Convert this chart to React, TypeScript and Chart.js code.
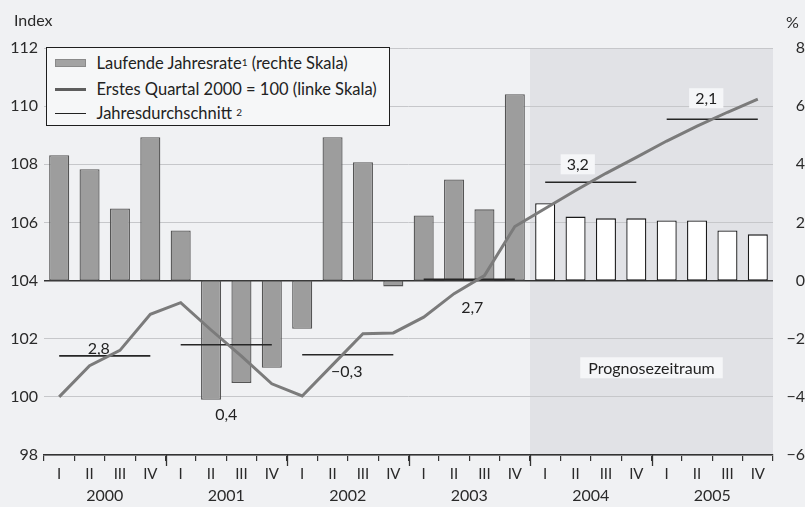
import React, { useEffect, useRef } from 'react';
import { Chart, registerables } from 'chart.js';

Chart.register(...registerables);

// ---- data ----
const quarterLabels = [
  'I', 'II', 'III', 'IV',
  'I', 'II', 'III', 'IV',
  'I', 'II', 'III', 'IV',
  'I', 'II', 'III', 'IV',
  'I', 'II', 'III', 'IV',
  'I', 'II', 'III', 'IV',
];
const yearLabels = ['2000', '2001', '2002', '2003', '2004', '2005'];

// Laufende Jahresrate in % (rechte Skala)
const annualRate = [
  4.31, 3.83, 2.48, 4.93,
  1.72, -4.1, -3.52, -3.0,
  -1.66, 4.93, 4.07, -0.2,
  2.24, 3.48, 2.45, 6.41,
  2.66, 2.2, 2.14, 2.14,
  2.07, 2.07, 1.72, 1.59,
];

// Erstes Quartal 2000 = 100 (linke Skala)
const indexValues = [
  100.0, 101.07, 101.6, 102.84,
  103.24, 102.3, 101.4, 100.45,
  100.03, 101.1, 102.17, 102.2,
  102.74, 103.55, 104.17, 105.86,
  106.48, 107.1, 107.69, 108.24,
  108.8, 109.31, 109.79, 110.24,
];

// Jahresdurchschnitt (linke Skala) and its growth labels
const annualAverage = [101.41, 101.79, 101.45, 104.04, 107.38, 109.55];
const annualGrowthLabels = ['2,8', '0,4', '\u22120,3', '2,7', '3,2', '2,1'];

const forecastStart = 16; // first forecast quarter (2004 I)
const forecastLabel = 'Prognosezeitraum';

const leftMin = 98, leftMax = 112;
const rightMin = -6, rightMax = 8;
const tickStep = 2;

// annotation placement (dx, dy in px from year centre / average line)
const growthLabelOffsets: [number, number][] = [
  [-6, -8], [0, 69], [-1, 16], [3, 27], [-13, -18], [-6, -21],
];

const FONT = 'Lato';

export default function App() {
  const ref = useRef<HTMLCanvasElement>(null);

  useEffect(() => {
    const quarterlyAverage = quarterLabels.map((_, i) => annualAverage[Math.floor(i / 4)]);

    const overlay = {
      id: 'overlay',
      beforeDraw(chart: any) {
        const { ctx, chartArea, scales } = chart;
        const x = scales.x;
        const step = x.getPixelForValue(1) - x.getPixelForValue(0);
        const fx = x.getPixelForValue(forecastStart) - step / 2;
        ctx.save();
        ctx.fillStyle = '#e1e2e6';
        ctx.fillRect(fx, chartArea.top, chartArea.right - fx, chartArea.bottom - chartArea.top);
        ctx.restore();
      },
      afterDraw(chart: any) {
        const { ctx, chartArea, scales } = chart;
        const x = scales.x;
        const y = scales.y;
        const y2 = scales.y2;
        const step = x.getPixelForValue(1) - x.getPixelForValue(0);
        ctx.save();
        // long ticks at year boundaries
        ctx.strokeStyle = '#333';
        ctx.lineWidth = 1.3;
        for (let i = 4; i < quarterLabels.length; i += 4) {
          const bx = Math.round(x.getPixelForValue(i) - step / 2) + 0.5;
          ctx.beginPath();
          ctx.moveTo(bx, chartArea.bottom);
          ctx.lineTo(bx, chartArea.bottom + 11);
          ctx.stroke();
        }
        // growth labels
        ctx.font = `16px ${FONT}`;
        ctx.textAlign = 'center';
        ctx.textBaseline = 'middle';
        annualGrowthLabels.forEach((lab, k) => {
          const cx = (x.getPixelForValue(4 * k) + x.getPixelForValue(4 * k + 3)) / 2 + growthLabelOffsets[k][0];
          const cy = y.getPixelForValue(annualAverage[k]) + growthLabelOffsets[k][1];
          if (4 * k >= forecastStart) {
            const w = ctx.measureText(lab).width + 12;
            ctx.fillStyle = '#f5f6f8';
            ctx.fillRect(cx - w / 2, cy - 10, w, 20);
          }
          ctx.fillStyle = '#222';
          ctx.fillText(lab, cx, cy + 1);
        });
        // forecast label
        const fx = x.getPixelForValue(forecastStart) - step / 2;
        const px = (fx + chartArea.right) / 2;
        const py = y2.getPixelForValue(-3);
        const w = ctx.measureText(forecastLabel).width + 16;
        ctx.fillStyle = '#f5f6f8';
        ctx.fillRect(px - w / 2, py - 10.5, w, 21);
        ctx.fillStyle = '#222';
        ctx.fillText(forecastLabel, px, py + 1);
        ctx.restore();
      },
    };

    Chart.defaults.font.family = FONT;
    Chart.defaults.font.size = 16;
    Chart.defaults.color = '#2a2a2a';

    const chart = new Chart(ref.current!, {
      type: 'bar',
      data: {
        labels: quarterLabels,
        datasets: [
          {
            type: 'line',
            label: 'Erstes Quartal 2000 = 100 (linke Skala)',
            data: indexValues,
            yAxisID: 'y',
            borderColor: '#7b7b7b',
            borderWidth: 3,
            pointRadius: 0,
            tension: 0,
            order: 1,
          },
          {
            type: 'line',
            label: 'Jahresdurchschnitt',
            data: quarterlyAverage,
            yAxisID: 'y',
            borderColor: '#262626',
            borderWidth: 1.6,
            pointRadius: 0,
            tension: 0,
            order: 2,
            segment: {
              borderColor: (ctx: any) => (ctx.p0DataIndex % 4 === 3 ? 'rgba(0,0,0,0)' : '#262626'),
            },
          },
          {
            type: 'bar',
            label: 'Laufende Jahresrate (rechte Skala)',
            data: annualRate,
            yAxisID: 'y2',
            backgroundColor: (ctx: any) => (ctx.dataIndex >= forecastStart ? '#ffffff' : '#9d9d9d'),
            borderColor: (ctx: any) => (ctx.dataIndex >= forecastStart ? '#1a1a1a' : '#555555'),
            borderWidth: 1.3,
            borderSkipped: false,
            categoryPercentage: 1,
            barPercentage: 0.66,
            order: 3,
          },
        ] as any,
      },
      options: {
        responsive: false,
        devicePixelRatio: 1,
        animation: false,
        layout: { padding: { top: 48, left: 0, right: 0, bottom: 0 } },
        plugins: { legend: { display: false }, tooltip: { enabled: false } },
        scales: {
          x: {
            type: 'category',
            position: 'bottom',
            offset: true,
            weight: 0,
            grid: {
              display: true,
              offset: true,
              drawOnChartArea: false,
              drawTicks: true,
              tickLength: 6,
              color: '#333',
              lineWidth: 1.2,
            },
            border: { display: true, color: '#333', width: 1.5 },
            ticks: { padding: 4, maxRotation: 0, autoSkip: false, font: { size: 15 } },
            afterFit: (s: any) => { s.height = 30; },
          },
          x2: {
            type: 'category',
            position: 'bottom',
            labels: yearLabels,
            offset: true,
            weight: 1,
            grid: { display: false, drawTicks: false },
            border: { display: false },
            ticks: { padding: 1, maxRotation: 0, autoSkip: false },
            afterFit: (s: any) => { s.height = 22; },
          },
          y: {
            type: 'linear',
            position: 'left',
            min: leftMin,
            max: leftMax,
            ticks: { stepSize: tickStep, padding: 6 },
            grid: {
              drawTicks: false,
              color: (ctx: any) => (ctx.tick && ctx.tick.value === 104 ? '#333' : '#c6c7ca'),
              lineWidth: (ctx: any) => (ctx.tick && ctx.tick.value === 104 ? 1.5 : 1),
            },
            border: { display: false },
            afterFit: (s: any) => { s.width = 44; },
          },
          y2: {
            type: 'linear',
            position: 'right',
            min: rightMin,
            max: rightMax,
            ticks: {
              stepSize: tickStep,
              padding: 8,
              crossAlign: 'far',
              callback: (v: any) => String(v).replace('-', '\u2212'),
            },
            grid: { display: false, drawTicks: false },
            border: { display: false },
            afterFit: (s: any) => { s.width = 32; },
          },
        } as any,
      },
      plugins: [overlay],
    });
    return () => chart.destroy();
  }, []);

  const rowText: React.CSSProperties = {
    position: 'absolute',
    left: 49.5,
    fontSize: 16.5,
    lineHeight: '20px',
    color: '#222',
    whiteSpace: 'nowrap',
  };
  const sup: React.CSSProperties = { fontSize: 10, verticalAlign: 'top', position: 'relative', top: -1 };

  return (
    <div style={{ position: 'fixed', left: 0, top: 0, width: 805, height: 507, background: '#f0f1f3', fontFamily: FONT, overflow: 'hidden' }}>
      <canvas ref={ref} width={805} height={507} style={{ position: 'absolute', left: 0, top: 0, width: 805, height: 507 }} />
      <div style={{ position: 'absolute', left: 14, top: 10, fontSize: 16, lineHeight: '20px', color: '#2a2a2a' }}>Index</div>
      <div style={{ position: 'absolute', left: 786, top: 12, fontSize: 16, lineHeight: '20px', color: '#2a2a2a' }}>%</div>
      <div style={{ position: 'absolute', left: 46, top: 47, width: 344, height: 79, boxSizing: 'border-box', border: '1.5px solid #1e1e1e', background: '#f6f7f8' }}>
        <div style={{ position: 'absolute', left: 7.5, top: 11, width: 31, height: 8, boxSizing: 'border-box', background: '#a3a3a3', border: '1px solid #8a8a8a' }} />
        <div style={{ ...rowText, top: 5 }}>Laufende Jahresrate<span style={sup}>1</span> (rechte Skala)</div>
        <div style={{ position: 'absolute', left: 7.5, top: 39.5, width: 31, height: 3, background: '#5e5e5e' }} />
        <div style={{ ...rowText, top: 31 }}>Erstes Quartal 2000 = 100 (linke Skala)</div>
        <div style={{ position: 'absolute', left: 7.5, top: 64.5, width: 31, height: 1.3, background: '#222' }} />
        <div style={{ ...rowText, top: 55 }}>Jahresdurchschnitt <span style={sup}>2</span></div>
      </div>
    </div>
  );
}
